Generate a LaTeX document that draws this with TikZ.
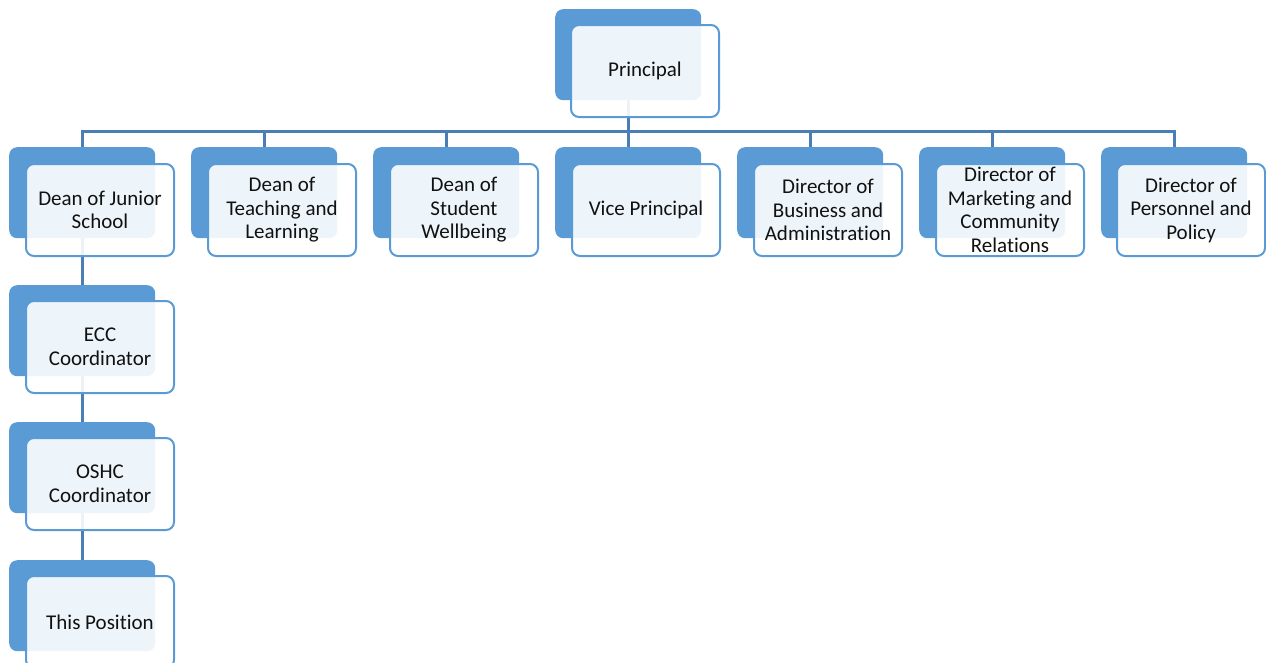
\documentclass[tikz,border=0pt]{standalone}
\usepackage{fontspec}
\setmainfont{Carlito}[Ligatures=NoCommon]
\usetikzlibrary{calc}
\pgfdeclarelayer{bg}
\pgfsetlayers{bg,main}
\definecolor{bk}{HTML}{5B9BD5}
\definecolor{fr}{HTML}{5B9BD5}
\definecolor{ln}{HTML}{4A7EB5}
\definecolor{tx}{HTML}{111111}
\tikzset{
  backbox/.style={fill=bk, draw=none, rounded corners=8pt, minimum width=146pt, minimum height=91pt, anchor=north west, inner sep=0pt},
  frontbox/.style={draw=fr, line width=2pt, fill=white, fill opacity=0.9, text opacity=1, rounded corners=8pt, minimum width=148pt, minimum height=92pt, anchor=north west, inner sep=0pt, align=center, text=tx, font=\fontsize{21pt}{23.5pt}\selectfont},
  conn/.style={draw=ln, line width=3pt}
}
\begin{document}
\begin{tikzpicture}[x=1pt,y=-1pt]
\useasboundingbox (0,0) rectangle (1266,662);
\clip (0,0) rectangle (1266,662);
\coordinate (bus) at (0,131);
% principal
\node[backbox] (pb) at (555,9) {};
\node[frontbox] (pf) at (570,24) {Principal};
% row
\node[backbox] (b1) at (9,147) {};
\node[frontbox] (f1) at (25,163) {Dean of Junior\\School};
\node[backbox] (b2) at (191,147) {};
\node[frontbox] (f2) at (207,163) {Dean of\\Teaching and\\Learning};
\node[backbox] (b3) at (373,147) {};
\node[frontbox] (f3) at (389,163) {Dean of\\Student\\Wellbeing};
\node[backbox] (b4) at (555,147) {};
\node[frontbox] (f4) at (571,163) {Vice Principal};
\node[backbox] (b5) at (737,147) {};
\node[frontbox] (f5) at (753,163) {Director of\\Business and\\Administration};
\node[backbox] (b6) at (919,147) {};
\node[frontbox] (f6) at (935,163) {Director of\\Marketing and\\Community\\Relations};
\node[backbox] (b7) at (1101,147) {};
\node[frontbox] (f7) at (1116,163) {Director of\\Personnel and\\Policy};
% chain
\node[backbox] (c1) at (9,285) {};
\node[frontbox] (g1) at (25,300) {ECC\\Coordinator};
\node[backbox] (c2) at (9,422) {};
\node[frontbox] (g2) at (25,437) {OSHC\\Coordinator};
\node[backbox] (c3) at (9,560) {};
\node[frontbox] (g3) at (25,575) {This Position};
\begin{pgfonlayer}{bg}
\foreach \c in {b1,b2,b3,b4,b5,b6,b7}{
  \draw[conn] (pb.south) -- (pb.south |- bus) -| (\c.north);
}
\draw[conn] (b1.south) -- (c1.north);
\draw[conn] (c1.south) -- (c2.north);
\draw[conn] (c2.south) -- (c3.north);
\end{pgfonlayer}
\end{tikzpicture}
\end{document}
